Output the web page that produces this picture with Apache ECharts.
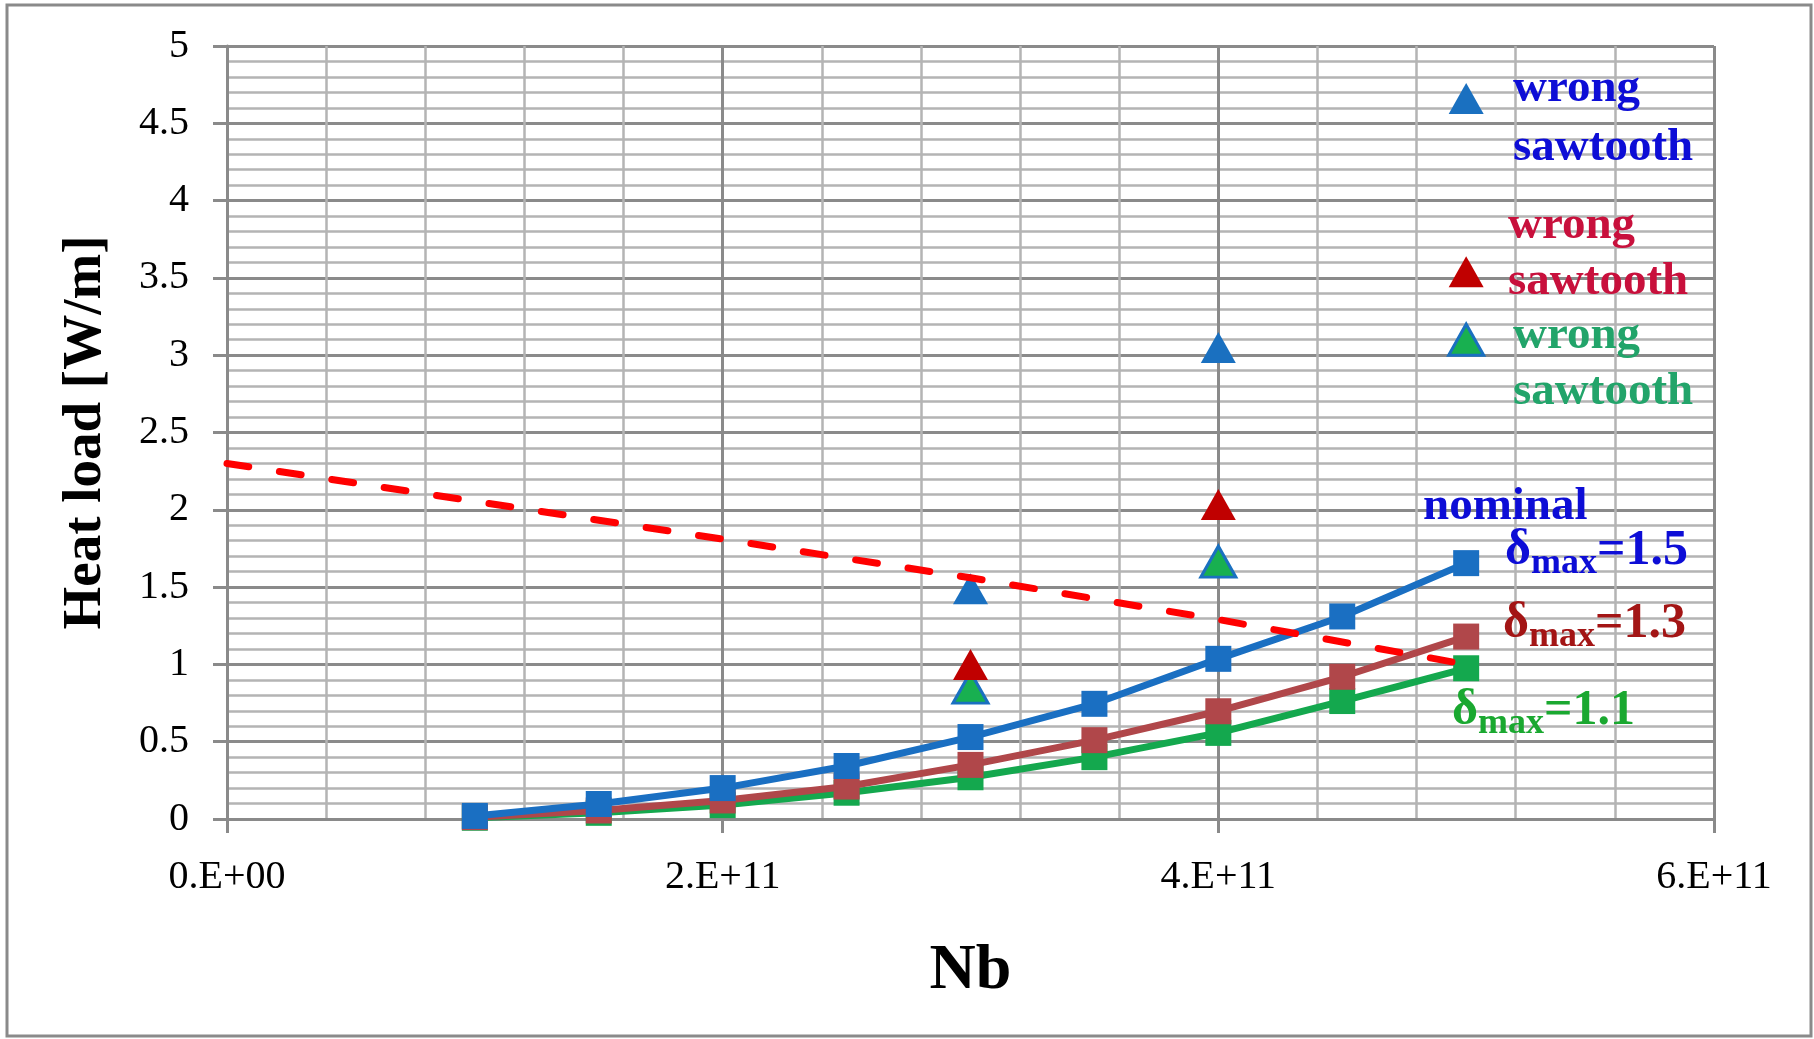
<!DOCTYPE html>
<html>
<head>
<meta charset="utf-8">
<script src="https://cdn.jsdelivr.net/npm/echarts@6/dist/echarts.min.js"></script>
<style>
  html, body { margin: 0; padding: 0; background: #fff; }
  #main { width: 1814px; height: 1039px; }
</style>
</head>
<body>
<div id="main"></div>
<script>
// bunch population Nb and heat load [W/m]
var nbValues = [1e11, 1.5e11, 2e11, 2.5e11, 3e11, 3.5e11, 4e11, 4.5e11, 5e11];
var heatD15 = [0.02, 0.097, 0.2, 0.343, 0.53, 0.745, 1.036, 1.31, 1.655];
var heatD13 = [0.012, 0.055, 0.12, 0.21, 0.35, 0.51, 0.697, 0.92, 1.18];
var heatD11 = [0.008, 0.04, 0.09, 0.17, 0.27, 0.40, 0.557, 0.763, 0.975];

// "wrong sawtooth" points
var sawNb = [3e11, 4e11];
var sawD15 = [1.49, 3.05];
var sawD13 = [1.0, 2.035];
var sawD11 = [0.85, 1.665];

// cooling limit (red dashed)
var limitNb = [0, 1e11, 2e11, 3e11, 4e11, 5e11];
var limitHeat = [2.30, 2.055, 1.81, 1.56, 1.29, 1.0];

// triangles used as legend keys next to the labels
var keyNb = [5e11];
var keyD15 = [4.66];
var keyD13 = [3.54];
var keyD11 = [3.10];

var yTicks = [0, 0.5, 1, 1.5, 2, 2.5, 3, 3.5, 4, 4.5, 5];

function pairs(xs, ys) {
    return xs.map(function (x, i) { return [x, ys[i]]; });
}

var serif = 'Liberation Serif';
var blue = '#1a6fc2', brown = '#b0474a', green = '#14a84e';
var triBlue = '#1a70c0', triRed = '#c00000', triGreen = '#18b050';

var myChart = echarts.init(document.getElementById('main'));

function lineSeries(name, data, color, z) {
    return {
        name: name, type: 'line', data: data, z: z,
        symbol: 'rect', symbolSize: 26,
        lineStyle: { color: color, width: 7 },
        itemStyle: { color: color, opacity: 1 }
    };
}

function triSeries(name, data, fill, border, z) {
    return {
        name: name, type: 'scatter', data: data, z: z,
        symbol: 'triangle', symbolSize: [35, 31],
        itemStyle: { color: fill, opacity: 1, borderColor: border, borderWidth: border ? 3 : 0 }
    };
}

function subText(x, y, value, color) {
    return {
        type: 'text', x: x, y: y, z: 100,
        style: {
            text: '{d|δ}{s|max}{d|=' + value + '}',
            textAlign: 'left', textVerticalAlign: 'middle',
            rich: {
                d: { fontFamily: serif, fontWeight: 'bold', fontSize: 50, lineHeight: 56, fill: color },
                s: { fontFamily: serif, fontWeight: 'bold', fontSize: 36, lineHeight: 56, fill: color, padding: [26, 0, 0, 0] }
            }
        }
    };
}

function wordText(x, y, text, color, lh) {
    return {
        type: 'text', x: x, y: y, z: 100,
        style: {
            text: text, fill: color, lineHeight: lh,
            font: 'bold 47px "' + serif + '"',
            textAlign: 'left', textVerticalAlign: 'top'
        }
    };
}

var option = {
    backgroundColor: '#fff',
    animation: false,
    grid: { left: 227, right: 100, top: 46, bottom: 220 },
    xAxis: {
        type: 'value', min: 0, max: 6e11, interval: 2e11,
        name: 'Nb', nameLocation: 'middle', nameGap: 120,
        nameTextStyle: { fontFamily: serif, fontWeight: 'bold', fontSize: 64, color: '#000' },
        axisLine: { show: true, lineStyle: { color: '#8a8a8a', width: 3 } },
        axisTick: { show: true, length: 14, lineStyle: { color: '#8a8a8a', width: 3 } },
        axisLabel: {
            margin: 38, fontFamily: serif, fontSize: 40, color: '#000',
            formatter: function (v) {
                if (v === 0) return '0.E+00';
                var e = Math.floor(Math.log10(v));
                return Math.round(v / Math.pow(10, e)) + '.E+' + e;
            }
        },
        splitLine: { show: true, lineStyle: { color: '#8a8a8a', width: 3 } },
        minorTick: { show: false, splitNumber: 5 },
        minorSplitLine: { show: true, lineStyle: { color: '#b4b4b4', width: 2.5 } }
    },
    yAxis: {
        type: 'value', min: 0, max: 5, interval: 0.5,
        name: 'Heat load [W/m]', nameLocation: 'middle', nameGap: 114, nameRotate: 90,
        nameTextStyle: { fontFamily: serif, fontWeight: 'bold', fontSize: 55, color: '#000' },
        axisLine: { show: true, lineStyle: { color: '#8a8a8a', width: 3 } },
        axisTick: { show: true, length: 14, lineStyle: { color: '#8a8a8a', width: 3 } },
        axisLabel: {
            margin: 38, fontFamily: serif, fontSize: 40, color: '#000',
            formatter: function (v) { return yTicks.indexOf(v) >= 0 ? String(v) : ''; }
        },
        splitLine: { show: true, lineStyle: { color: '#8a8a8a', width: 3 } },
        minorTick: { show: false, splitNumber: 5 },
        minorSplitLine: { show: true, lineStyle: { color: '#b4b4b4', width: 2.5 } }
    },
    series: [
        lineSeries('δmax=1.1', pairs(nbValues, heatD11), green, 3),
        lineSeries('δmax=1.3', pairs(nbValues, heatD13), brown, 4),
        lineSeries('δmax=1.5', pairs(nbValues, heatD15), blue, 5),
        triSeries('wrong sawtooth 1.1', pairs(sawNb, sawD11).concat(pairs(keyNb, keyD11)), triGreen, triBlue, 6),
        triSeries('wrong sawtooth 1.3', pairs(sawNb, sawD13).concat(pairs(keyNb, keyD13)), triRed, null, 7),
        triSeries('wrong sawtooth 1.5', pairs(sawNb, sawD15).concat(pairs(keyNb, keyD15)), triBlue, null, 6),
        {
            name: 'limit', type: 'line', data: pairs(limitNb, limitHeat), z: 9,
            symbol: 'none',
            lineStyle: { color: '#ff0000', width: 7, type: [22, 31], cap: 'round' }
        }
    ],
    graphic: [
        {
            type: 'rect', z: -1, silent: true,
            shape: { x: 7, y: 5, width: 1804, height: 1031 },
            style: { fill: null, stroke: '#8a8a8a', lineWidth: 3 }
        },
        wordText(1513, 59, 'wrong\nsawtooth', '#0d0dd6', 59),
        wordText(1508, 198, 'wrong\nsawtooth', '#c8103c', 56),
        wordText(1513, 308, 'wrong\nsawtooth', '#22a46a', 56),
        {
            type: 'text', x: 1423, y: 507, z: 100,
            style: {
                text: 'nominal', fill: '#0d0dd6',
                font: 'bold 47px "' + serif + '"',
                textAlign: 'left', textVerticalAlign: 'middle'
            }
        },
        subText(1505, 551, '1.5', '#0d0dd6'),
        subText(1503, 624, '1.3', '#a31515'),
        subText(1452, 711, '1.1', '#1aa830')
    ]
};

myChart.setOption(option);
</script>
</body>
</html>
